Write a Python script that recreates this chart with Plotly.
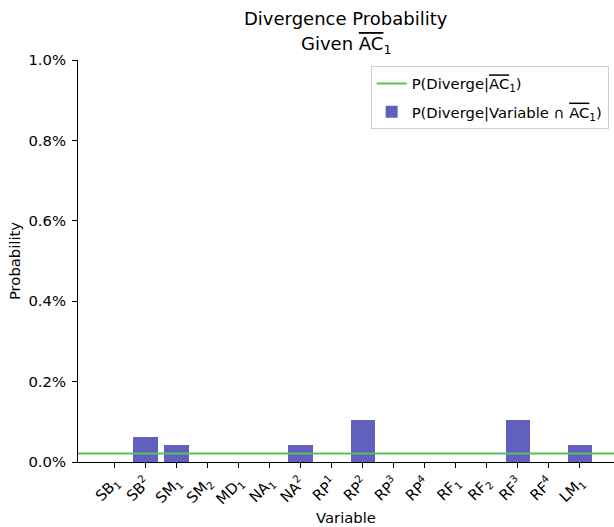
import plotly.graph_objects as go

# Variables on the x axis
variables = ["SB<sub>1</sub>", "SB<sup>2</sup>", "SM<sub>1</sub>", "SM<sub>2</sub>",
             "MD<sub>1</sub>", "NA<sub>1</sub>", "NA<sup>2</sup>", "RP<sup>1</sup>",
             "RP<sup>2</sup>", "RP<sup>3</sup>", "RP<sup>4</sup>", "RF<sub>1</sub>",
             "RF<sub>2</sub>", "RF<sup>3</sup>", "RF<sup>4</sup>", "LM<sub>1</sub>"]
# P(Diverge | Variable ∩ not AC1)
cond_prob = [0.0, 0.000625, 0.000417, 0.0, 0.0, 0.0, 0.000417, 0.0,
             0.00104, 0.0, 0.0, 0.0, 0.0, 0.00104, 0.0, 0.000417]
# P(Diverge | not AC1)
base_prob = 0.00021

y_ticks = [0.0, 0.002, 0.004, 0.006, 0.008, 0.010]

OV = '<span style="text-decoration:overline">AC</span>'
FONT = "DejaVu Sans"
BAR_COLOR = "rgb(96,96,190)"
LINE_COLOR = "rgb(92,190,92)"
FS = 14.8

fig = go.Figure()

fig.add_trace(go.Bar(
    x=list(range(len(variables))), y=cond_prob,
    width=0.8,
    marker=dict(color=BAR_COLOR, line=dict(width=0)),
    name="P(Diverge|Variable ∩ " + OV + "<sub>1</sub>)",
    legendrank=2, legendgroup="b",
))

fig.add_trace(go.Scatter(
    x=[0, 1], y=[base_prob, base_prob], xaxis="x2",
    mode="lines", line=dict(color=LINE_COLOR, width=2),
    name="P(Diverge|" + OV + "<sub>1</sub>)",
    legendrank=1, legendgroup="a",
))

fig.update_layout(
    width=614, height=527,
    margin=dict(l=78, r=0, t=59.5, b=65),
    plot_bgcolor="white", paper_bgcolor="white",
    font=dict(family=FONT, size=FS, color="black"),
    bargap=0,
    xaxis=dict(
        range=[-1.19, 16.1],
        tickmode="array", tickvals=list(range(len(variables))), ticktext=variables,
        tickangle=-45, ticks="outside", ticklen=5, tickcolor="black",
        showline=True, linecolor="black", linewidth=1, mirror=False,
        showgrid=False, zeroline=False,
        tickfont=dict(size=FS),
        title=dict(text="Variable", standoff=4, font=dict(size=FS)),
    ),
    xaxis2=dict(range=[0, 1], overlaying="x", visible=False),
    yaxis=dict(
        range=[0, 0.01], tickvals=y_ticks, tickformat=".1%",
        ticks="outside", ticklen=5, tickcolor="black", ticklabelstandoff=3,
        showline=True, linecolor="black", linewidth=1, mirror=False,
        showgrid=False, zeroline=False,
        tickfont=dict(size=FS),
        title=dict(text="Probability", standoff=4, font=dict(size=FS)),
    ),
    legend=dict(
        x=0.99, y=0.984, xanchor="right", yanchor="top",
        bgcolor="white", bordercolor="#d0d0d0", borderwidth=1,
        font=dict(size=FS), tracegroupgap=6,
    ),
    annotations=[
        dict(text="Divergence Probability", xref="paper", yref="paper",
             x=0.5, y=1 + 41.5 / 402.5, yanchor="middle", showarrow=False,
             font=dict(size=18)),
        dict(text="Given " + OV + "<sub>1</sub>", xref="paper", yref="paper",
             x=0.5, y=1 + 15.5 / 402.5, yanchor="middle", showarrow=False,
             font=dict(size=18)),
    ],
)

fig.write_html("out.html")
